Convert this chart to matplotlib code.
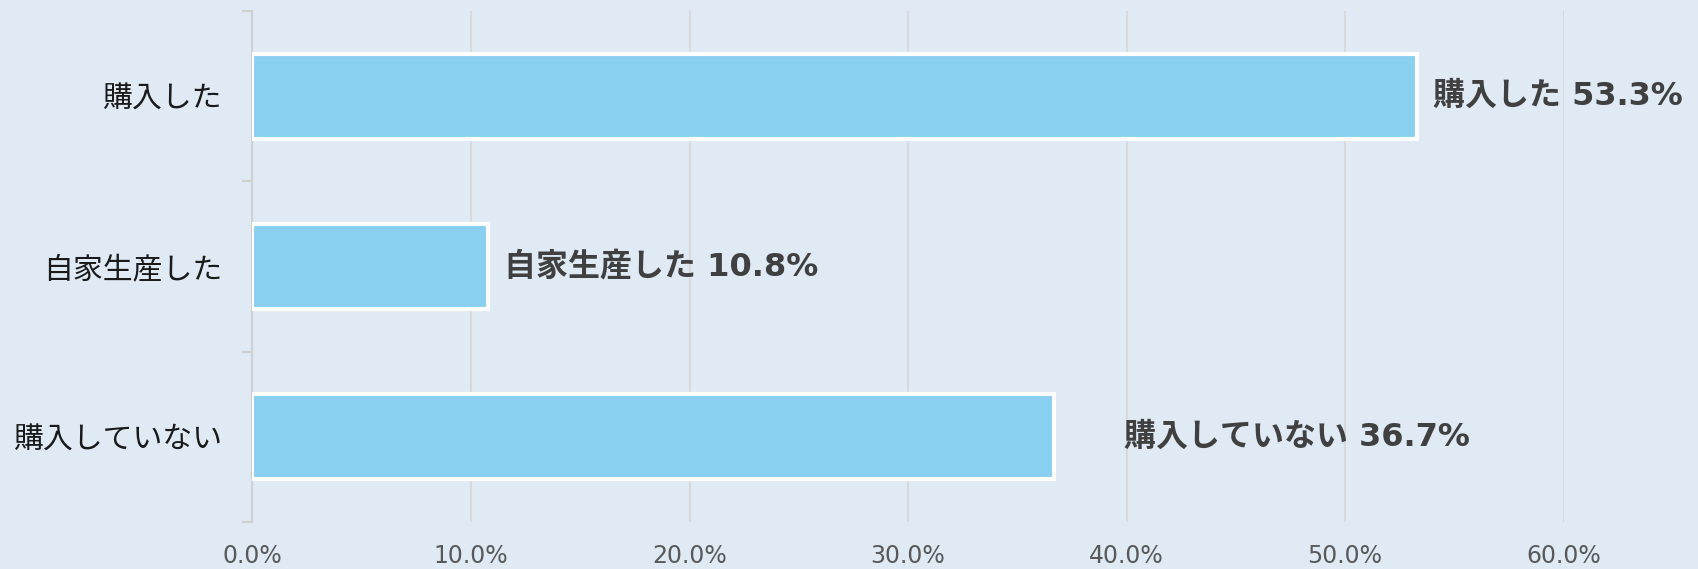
import numpy as np
import matplotlib.pyplot as plt

plt.rcParams['font.family'] = ['Noto Sans CJK JP', 'DejaVu Sans']

# Data
categories = ["購入した", "自家生産した", "購入していない"]
values = [53.3, 10.8, 36.7]
xticks = [0, 10, 20, 30, 40, 50, 60]

# Style
bgColor = "#dfeaf5"
barColor = "#89cff0"
labelOffsets = [16, 16, 70]   # pixel offset of each value label from the bar end

fig = plt.figure(figsize=(16.99, 5.69), dpi=100, facecolor=bgColor)
ax = fig.add_axes([0.1486, 0.0826, 0.9203 - 0.1486, 0.9807 - 0.0826])
ax.set_facecolor(bgColor)

yPos = np.arange(len(categories))
ax.barh(yPos, values, height=0.5, color=barColor, edgecolor="white", linewidth=3, zorder=3)

ax.set_xlim(0, 60)
ax.set_ylim(len(categories) - 0.5, -0.5)

# Grid lines
ax.set_xticks(xticks)
ax.set_xticklabels([f"{t:.1f}%" for t in xticks], family="DejaVu Sans", fontsize=17, color="#595959")
ax.xaxis.grid(True, color="#d9d9d9", linewidth=1.5, zorder=0)
ax.tick_params(axis="x", length=0, pad=16)

# Category labels and boundary ticks
ax.set_yticks(yPos)
ax.set_yticklabels(categories, fontsize=21.5, color="#1a1a1a")
ax.set_yticks(np.arange(-0.5, len(categories), 1.0), minor=True)
ax.tick_params(axis="y", which="major", length=0, pad=22)
ax.tick_params(axis="y", which="minor", length=7, width=1.5, color="#d0d0d0")

for side in ["top", "right", "bottom"]:
    ax.spines[side].set_visible(False)
ax.spines["left"].set_color("#d0d0d0")
ax.spines["left"].set_linewidth(1.5)

# Value labels
for i in range(len(categories)):
    ax.annotate(categories[i] + " " + f"{values[i]:.1f}%",
                xy=(values[i], yPos[i]), xytext=(labelOffsets[i], 0), textcoords="offset pixels",
                ha="left", va="center", fontsize=23, fontweight="bold", color="#404040",
                family=["DejaVu Sans", "Noto Sans CJK JP"],
                annotation_clip=False, zorder=4)

plt.savefig("out.png", dpi=100, facecolor=bgColor)
